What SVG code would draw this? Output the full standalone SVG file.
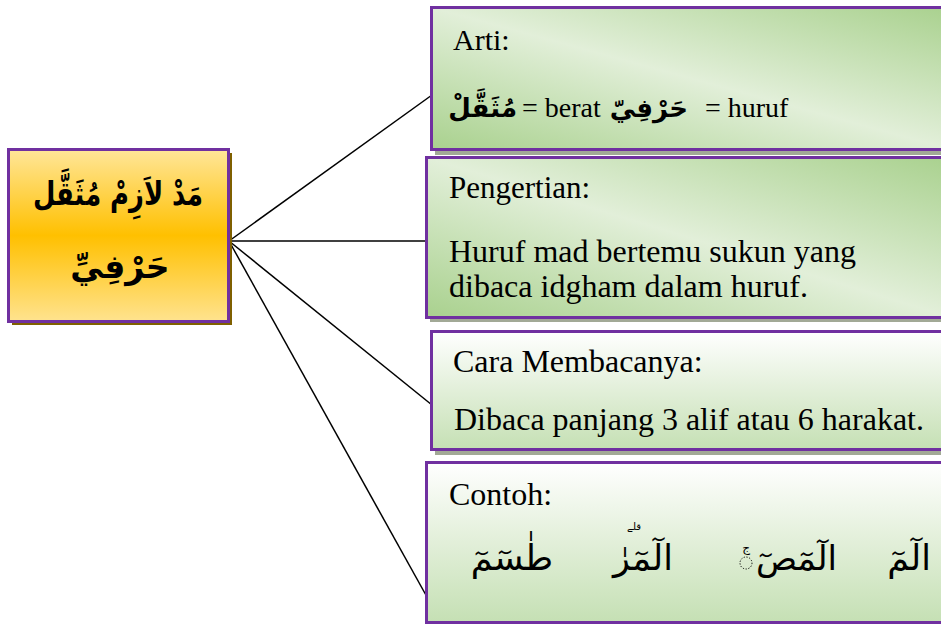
<svg xmlns="http://www.w3.org/2000/svg" width="941" height="625" viewBox="0 0 941 625">
<defs>
<linearGradient id="gOrange" x1="0" y1="0" x2="0" y2="1">
<stop offset="0" stop-color="#FFE699"/>
<stop offset="0.5" stop-color="#FFC000"/>
<stop offset="1" stop-color="#FFE38F"/>
</linearGradient>
<linearGradient id="gDiag" x1="1" y1="0" x2="0" y2="1">
<stop offset="0" stop-color="#A9D18E"/>
<stop offset="0.5" stop-color="#E2EFD9"/>
<stop offset="1" stop-color="#A9D18E"/>
</linearGradient>
<linearGradient id="gVert" x1="0" y1="0" x2="0" y2="1">
<stop offset="0" stop-color="#FFFFFF"/>
<stop offset="0.5" stop-color="#E2EFD9"/>
<stop offset="1" stop-color="#C5E0B4"/>
</linearGradient>
</defs>
<style>
.box{stroke:#7030A0;stroke-width:3}
.shadow{fill:#A2A996}
.lat{font-family:"Liberation Serif","Times New Roman",serif;font-size:32px;fill:#000}
.ar{font-family:"DejaVu Sans","Noto Sans",sans-serif;fill:#000}
.conn{stroke:#000;stroke-width:1.5;fill:none}
</style>
<g id="connectors">
<line class="conn" x1="229" y1="241" x2="432" y2="95"/>
<line class="conn" x1="229" y1="241" x2="427" y2="241"/>
<line class="conn" x1="229" y1="241" x2="432" y2="405"/>
<line class="conn" x1="229" y1="241" x2="427" y2="597"/>
</g>
<g id="node-main">
<rect x="12" y="153" width="220" height="172" fill="#7F6000"/>
<rect class="box" x="8.5" y="149.5" width="220" height="172" fill="url(#gOrange)"/>
<text class="ar" x="118" y="205" font-size="33" font-weight="bold" text-anchor="middle" direction="rtl" textLength="170" lengthAdjust="spacingAndGlyphs">مَدْ لاَزِمْ مُثَقَّل</text>
<text class="ar" x="120" y="278" font-size="33" font-weight="bold" text-anchor="middle" direction="rtl">حَرْفِيِّ</text>
</g>
<g id="node-arti">
<rect class="shadow" x="435" y="12" width="520" height="143"/>
<rect class="box" x="431.5" y="7.5" width="520" height="142" fill="url(#gDiag)"/>
<text class="lat" x="453" y="50" style="font-size:30px">Arti:</text>
<text class="ar" x="517" y="117" font-size="26" font-weight="bold" direction="rtl">مُثَقَّلْ</text>
<text class="lat" x="522" y="117" style="font-size:28px">= berat</text>
<text class="ar" x="688" y="117" font-size="26" font-weight="bold" direction="rtl">حَرْفِيّ</text>
<text class="lat" x="705" y="117" style="font-size:28px">= huruf</text>
</g>
<g id="node-pengertian">
<rect class="shadow" x="430" y="161" width="525" height="161"/>
<rect class="box" x="426.5" y="157.5" width="525" height="160" fill="url(#gDiag)"/>
<text class="lat" x="449" y="198" style="font-size:31px">Pengertian:</text>
<text class="lat" x="449" y="262">Huruf mad bertemu sukun yang</text>
<text class="lat" x="449" y="297">dibaca idgham dalam huruf.</text>
</g>
<g id="node-cara">
<rect class="shadow" x="435" y="335" width="520" height="120"/>
<rect class="box" x="431.5" y="331.5" width="520" height="118" fill="url(#gVert)"/>
<text class="lat" x="453" y="372">Cara Membacanya:</text>
<text class="lat" x="454" y="430">Dibaca panjang 3 alif atau 6 harakat.</text>
</g>
<g id="node-contoh">
<rect class="box" x="426.5" y="462.5" width="525" height="160" fill="url(#gVert)"/>
<text class="lat" x="449" y="505">Contoh:</text>
<text class="ar" x="553" y="570" font-size="35" direction="rtl">طٰسٓمٓ</text>
<text class="ar" x="673" y="570" font-size="35" direction="rtl">الٓمٓرٰ</text>
<text class="ar" x="641" y="530" font-size="10" direction="rtl">قلے</text>
<circle cx="746" cy="563" r="6" fill="none" stroke="#000" stroke-width="1" stroke-dasharray="1.2 1.6"/>
<text class="ar" x="746" y="552" font-size="12" text-anchor="middle" direction="rtl">ج</text>
<text class="ar" x="837" y="570" font-size="34" direction="rtl">الٓمٓصٓ</text>
<text class="ar" x="931" y="570" font-size="35" direction="rtl">الٓمٓ</text>
</g>
</svg>
